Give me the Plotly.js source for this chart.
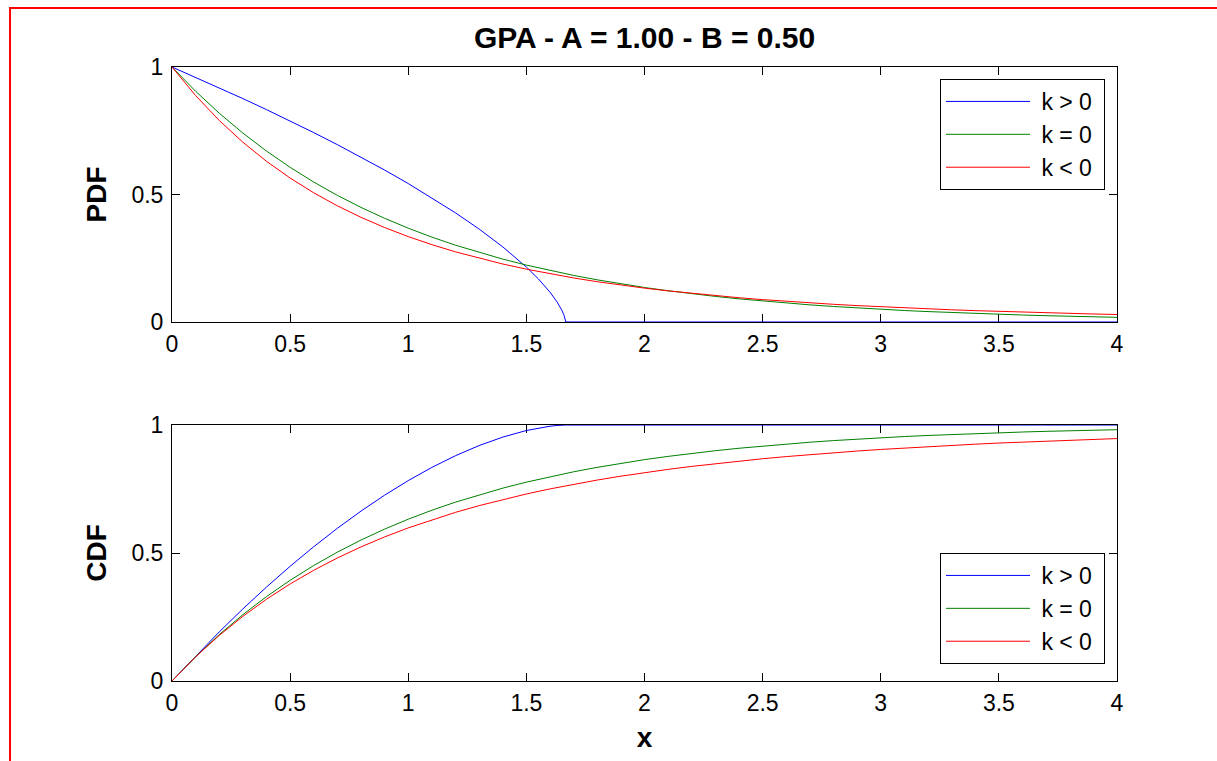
<!DOCTYPE html>
<html>
<head>
<meta charset="utf-8">
<script src="https://cdn.plot.ly/plotly-3.0.1.min.js"></script>
<style>
  html, body { margin: 0; padding: 0; background: #fff; }
  #chart { width: 1217px; height: 761px; }
</style>
</head>
<body>
<div id="chart"></div>
<script>
// ---- data ----
const seriesNames = ["k > 0", "k = 0", "k < 0"];
const xTickVals = [0, 0.5, 1, 1.5, 2, 2.5, 3, 3.5, 4];
const xTickText = ["0", "0.5", "1", "1.5", "2", "2.5", "3", "3.5", "4"];
const yTickVals = [0, 0.5, 1];
const yTickText = ["0", "0.5", "1"];

// k > 0 curve (ends at x ~ 1.667)
const xPos = [0, 0.1, 0.2, 0.3, 0.4, 0.5, 0.6, 0.7, 0.8, 0.9, 1.0, 1.1, 1.2, 1.3, 1.4, 1.5,
              1.55, 1.6, 1.63, 1.65, 1.66, 1.6667, 2, 2.5, 3, 3.5, 4];
const pdfPos = [1, 0.9596, 0.9183, 0.8761, 0.8328, 0.7884, 0.7427, 0.6954, 0.6467, 0.5959, 0.5429,
                0.4871, 0.4280, 0.3645, 0.2947, 0.2154, 0.1698, 0.1170, 0.0785, 0.0464, 0.0252, 0,
                0, 0, 0, 0, 0];
const cdfPos = [0, 0.0980, 0.1919, 0.2816, 0.3671, 0.4481, 0.5247, 0.5966, 0.6637, 0.7259, 0.7829,
                0.8344, 0.8802, 0.9198, 0.9528, 0.9785, 0.9881, 0.9953, 0.9983, 0.9995, 0.9999, 1,
                1, 1, 1, 1, 1];

// k = 0 and k < 0 curves share one x grid
const xGrid = [0, 0.1, 0.2, 0.3, 0.4, 0.5, 0.6, 0.7, 0.8, 0.9, 1.0, 1.1, 1.2, 1.3, 1.4, 1.5, 1.6, 1.7,
               1.8, 1.9, 2.0, 2.1, 2.2, 2.3, 2.4, 2.5, 2.6, 2.7, 2.8, 2.9, 3.0, 3.1, 3.2, 3.3, 3.4,
               3.5, 3.6, 3.7, 3.8, 3.9, 4.0];
const pdfZero = [1, 0.9048, 0.8187, 0.7408, 0.6703, 0.6065, 0.5488, 0.4966, 0.4493, 0.4066, 0.3679,
                 0.3329, 0.3012, 0.2725, 0.2466, 0.2231, 0.2019, 0.1827, 0.1653, 0.1496, 0.1353,
                 0.1225, 0.1108, 0.1003, 0.0907, 0.0821, 0.0743, 0.0672, 0.0608, 0.0550, 0.0498,
                 0.0450, 0.0408, 0.0369, 0.0334, 0.0302, 0.0273, 0.0247, 0.0224, 0.0202, 0.0183];
const cdfZero = [0, 0.0952, 0.1813, 0.2592, 0.3297, 0.3935, 0.4512, 0.5034, 0.5507, 0.5934, 0.6321,
                 0.6671, 0.6988, 0.7275, 0.7534, 0.7769, 0.7981, 0.8173, 0.8347, 0.8504, 0.8647,
                 0.8775, 0.8892, 0.8997, 0.9093, 0.9179, 0.9257, 0.9328, 0.9392, 0.9450, 0.9502,
                 0.9550, 0.9592, 0.9631, 0.9666, 0.9698, 0.9727, 0.9753, 0.9776, 0.9798, 0.9817];
const pdfNeg = [1, 0.8880, 0.7903, 0.7050, 0.6302, 0.5645, 0.5066, 0.4556, 0.4104, 0.3704, 0.3349,
                0.3033, 0.2751, 0.2499, 0.2274, 0.2072, 0.1891, 0.1727, 0.1580, 0.1448, 0.1328,
                0.1220, 0.1122, 0.1033, 0.0951, 0.0878, 0.0811, 0.0750, 0.0694, 0.0643, 0.0596,
                0.0553, 0.0514, 0.0478, 0.0445, 0.0414, 0.0386, 0.0360, 0.0336, 0.0314, 0.0294];
const cdfNeg = [0, 0.0943, 0.1781, 0.2527, 0.3194, 0.3791, 0.4326, 0.4806, 0.5239, 0.5629, 0.5981,
                0.6300, 0.6589, 0.6851, 0.7089, 0.7306, 0.7504, 0.7686, 0.7851, 0.8002, 0.8141,
                0.8268, 0.8384, 0.8492, 0.8593, 0.8683, 0.8767, 0.8845, 0.8917, 0.8984, 0.9046,
                0.9104, 0.9157, 0.9207, 0.9252, 0.9296, 0.9336, 0.9374, 0.9409, 0.9441, 0.9471];

// ---- styling ----
const FONT = "Liberation Sans, Arial, Helvetica, sans-serif";
const colors = ["#0000ff", "#008000", "#ff0000"];

function tr(x, y, i, xa, ya, leg) {
  return {
    x: x, y: y, type: "scatter", mode: "lines",
    name: "\u00a0" + seriesNames[i] + "\u00a0",
    xaxis: xa, yaxis: ya, legend: leg,
    line: { color: colors[i], width: 1 }
  };
}

const data = [
  tr(xPos, pdfPos, 0, "x", "y", "legend"),
  tr(xGrid, pdfZero, 1, "x", "y", "legend"),
  tr(xGrid, pdfNeg, 2, "x", "y", "legend"),
  tr(xPos, cdfPos, 0, "x2", "y2", "legend2"),
  tr(xGrid, cdfZero, 1, "x2", "y2", "legend2"),
  tr(xGrid, cdfNeg, 2, "x2", "y2", "legend2")
];

function xAxis(anchor, withTitle) {
  const a = {
    anchor: anchor, domain: [0, 1], range: [0, 4],
    tickmode: "array", tickvals: xTickVals, ticktext: xTickText,
    ticks: "inside", ticklen: 8, tickwidth: 1, tickcolor: "#000",
    showline: true, linecolor: "#000", linewidth: 1, mirror: "ticks",
    showgrid: false, zeroline: false, fixedrange: true,
    ticklabelstandoff: 1,
    tickfont: { family: FONT, size: 23, color: "#000" },
    layer: "below traces"
  };
  if (withTitle) {
    a.title = { text: "<b>x</b>", font: { family: FONT, size: 28, color: "#000" }, standoff: 12 };
  }
  return a;
}
function yAxis(anchor, dom, label) {
  return {
    anchor: anchor, domain: dom, range: [0, 1],
    tickmode: "array", tickvals: yTickVals, ticktext: yTickText,
    ticks: "inside", ticklen: 8, tickwidth: 1, tickcolor: "#000",
    showline: true, linecolor: "#000", linewidth: 1, mirror: "ticks",
    showgrid: false, zeroline: false, fixedrange: true,
    ticklabelstandoff: 3,
    tickfont: { family: FONT, size: 23, color: "#000" },
    title: { text: "<b>" + label + "</b>", font: { family: FONT, size: 28, color: "#000" }, standoff: 16 },
    layer: "below traces"
  };
}

const legendBase = {
  bgcolor: "#ffffff", bordercolor: "#000", borderwidth: 1,
  font: { family: FONT, size: 23, color: "#000" },
  xref: "paper", yref: "paper", xanchor: "right", yanchor: "top",
  itemwidth: 84, tracegroupgap: 0
};

const layout = {
  width: 1217, height: 761,
  margin: { l: 172, r: 100, t: 67, b: 80, pad: 0 },
  paper_bgcolor: "#ffffff", plot_bgcolor: "#ffffff",
  showlegend: true,
  title: {
    text: "<b>GPA - A = 1.00 - B = 0.50</b>",
    font: { family: FONT, size: 30, color: "#000" },
    x: 0.5, xref: "paper", xanchor: "center",
    y: 1 - 37 / 761, yref: "container", yanchor: "middle"
  },
  xaxis: xAxis("y", false),
  yaxis: yAxis("x", [0.5847, 1], "PDF"),
  xaxis2: xAxis("y2", true),
  yaxis2: yAxis("x2", [0, 0.4169], "CDF"),
  legend: Object.assign({}, legendBase, { x: 0.9873, y: 0.9805 }),
  legend2: Object.assign({}, legendBase, { x: 0.9873, y: 0.2085 }),
  shapes: [{
    type: "rect", xref: "paper", yref: "paper",
    x0: -0.1714, x1: 1.2, y0: -0.3, y1: 1.0961,
    line: { color: "#ff0000", width: 2 }, fillcolor: "rgba(0,0,0,0)", layer: "above"
  }]
};

Plotly.newPlot("chart", data, layout, { displayModeBar: false, staticPlot: true });
</script>
</body>
</html>
